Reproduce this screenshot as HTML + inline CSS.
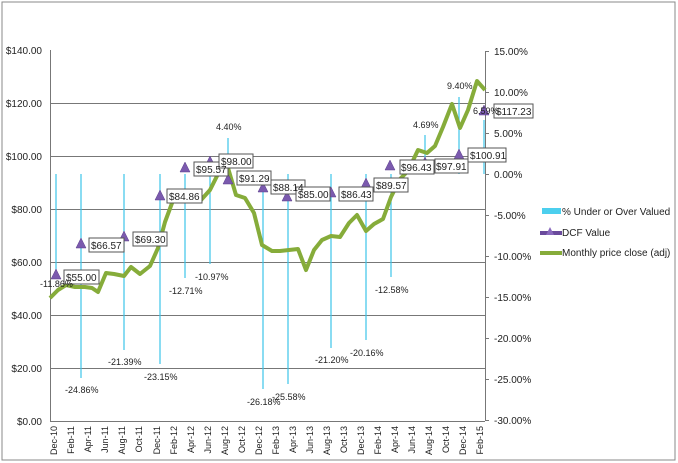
<!DOCTYPE html>
<html><head><meta charset="utf-8"><style>
body{margin:0;background:#fff}
svg{display:block;font-family:"Liberation Sans",sans-serif}
</style></head><body>
<svg width="678" height="463" viewBox="0 0 678 463" xmlns="http://www.w3.org/2000/svg">
<defs><linearGradient id="bg" x1="0" x2="1"><stop offset="0" stop-color="#2a5fb0"/><stop offset="1" stop-color="#e8f0fa"/></linearGradient></defs>
<rect x="2" y="2" width="673" height="458" fill="#fff" stroke="#888" stroke-width="1"/>
<line x1="50" y1="50.5" x2="485" y2="50.5" stroke="url(#bg)" stroke-width="1"/>
<g stroke="#777" stroke-width="1">
<line x1="50" y1="103.5" x2="485" y2="103.5"/><line x1="50" y1="156.5" x2="485" y2="156.5"/>
<line x1="50" y1="209.5" x2="485" y2="209.5"/><line x1="50" y1="262.5" x2="485" y2="262.5"/>
<line x1="50" y1="315.5" x2="485" y2="315.5"/><line x1="50" y1="368.5" x2="485" y2="368.5"/>
<line x1="50.5" y1="50" x2="50.5" y2="421"/><line x1="50" y1="421.5" x2="485" y2="421.5"/>
<line x1="485.5" y1="51" x2="485.5" y2="421"/>
</g>
<g font-size="10" fill="#222" text-anchor="end">
<text x="42" y="54">$140.00</text><text x="42" y="107">$120.00</text><text x="42" y="160">$100.00</text>
<text x="42" y="213">$80.00</text><text x="42" y="266">$60.00</text><text x="42" y="319">$40.00</text>
<text x="42" y="372">$20.00</text><text x="42" y="425">$0.00</text>
</g>
<g font-size="10" fill="#222">
<text x="494" y="55">15.00%</text><text x="494" y="96">10.00%</text><text x="494" y="137">5.00%</text>
<text x="494" y="178">0.00%</text><text x="494" y="219">-5.00%</text><text x="494" y="260">-10.00%</text>
<text x="494" y="301">-15.00%</text><text x="494" y="342">-20.00%</text><text x="494" y="383">-25.00%</text>
<text x="494" y="424">-30.00%</text>
</g>
<g stroke="#777"><line x1="485" y1="51.5" x2="489" y2="51.5"/><line x1="485" y1="92.5" x2="489" y2="92.5"/><line x1="485" y1="133.5" x2="489" y2="133.5"/><line x1="485" y1="174.5" x2="489" y2="174.5"/><line x1="485" y1="215.5" x2="489" y2="215.5"/><line x1="485" y1="256.5" x2="489" y2="256.5"/><line x1="485" y1="297.5" x2="489" y2="297.5"/><line x1="485" y1="338.5" x2="489" y2="338.5"/><line x1="485" y1="379.5" x2="489" y2="379.5"/><line x1="485" y1="420.5" x2="489" y2="420.5"/></g>
<g font-size="9" fill="#222" text-anchor="end">
<text transform="translate(57,426) rotate(-90)">Dec-10</text><text transform="translate(74,426) rotate(-90)">Feb-11</text>
<text transform="translate(91,426) rotate(-90)">Apr-11</text><text transform="translate(108,426) rotate(-90)">Jun-11</text>
<text transform="translate(125,426) rotate(-90)">Aug-11</text><text transform="translate(142,426) rotate(-90)">Oct-11</text>
<text transform="translate(160,426) rotate(-90)">Dec-11</text><text transform="translate(177,426) rotate(-90)">Feb-12</text>
<text transform="translate(194,426) rotate(-90)">Apr-12</text><text transform="translate(211,426) rotate(-90)">Jun-12</text>
<text transform="translate(228,426) rotate(-90)">Aug-12</text><text transform="translate(245,426) rotate(-90)">Oct-12</text>
<text transform="translate(262,426) rotate(-90)">Dec-12</text><text transform="translate(279,426) rotate(-90)">Feb-13</text>
<text transform="translate(296,426) rotate(-90)">Apr-13</text><text transform="translate(313,426) rotate(-90)">Jun-13</text>
<text transform="translate(330,426) rotate(-90)">Aug-13</text><text transform="translate(347,426) rotate(-90)">Oct-13</text>
<text transform="translate(364,426) rotate(-90)">Dec-13</text><text transform="translate(381,426) rotate(-90)">Feb-14</text>
<text transform="translate(398,426) rotate(-90)">Apr-14</text><text transform="translate(415,426) rotate(-90)">Jun-14</text>
<text transform="translate(432,426) rotate(-90)">Aug-14</text><text transform="translate(449,426) rotate(-90)">Oct-14</text>
<text transform="translate(466,426) rotate(-90)">Dec-14</text><text transform="translate(483,426) rotate(-90)">Feb-15</text>
</g>
<g stroke="#3cc4e8" stroke-width="1.2">
<line x1="56" y1="174" x2="56" y2="271"/><line x1="81" y1="174" x2="81" y2="378"/>
<line x1="124" y1="174" x2="124" y2="350"/><line x1="160" y1="174" x2="160" y2="364"/>
<line x1="185" y1="174" x2="185" y2="278"/><line x1="210" y1="174" x2="210" y2="264"/>
<line x1="228" y1="174" x2="228" y2="138"/><line x1="263" y1="174" x2="263" y2="389"/>
<line x1="288" y1="174" x2="288" y2="384"/><line x1="331" y1="174" x2="331" y2="348"/>
<line x1="366" y1="174" x2="366" y2="340"/><line x1="391" y1="174" x2="391" y2="277"/>
<line x1="425" y1="174" x2="425" y2="135"/><line x1="459" y1="174" x2="459" y2="97"/>
<line x1="484" y1="174" x2="484" y2="120"/>
</g>
<polyline fill="none" stroke="#86ac3a" stroke-width="4" stroke-linejoin="round" points="50,298 58,290 66,285 75,287 85,287 92,288 98,292 106,273 114,274 124,276 131,267 140,274 150,266 158,248 165,222 175,195 183,200 192,200 201,200 210,190 219,172 228,168 236,195 245,198 254,213 262,245 272,251 280,251 289,250 298,249 306,270 314,250 322,240 331,236 340,237 349,223 357,215 366,231 374,224 383,219 391,197 400,179 408,171 418,150 427,153 435,146 443,127 452,104 460,128 468,110 477,81 485,90"/>
<g fill="#7b5aae" stroke="#5b3f8a" stroke-width="0.5">
<polygon points="56,269 51,279 61,279"/><polygon points="81,238 76,248 86,248"/><polygon points="124,231 119,241 129,241"/>
<polygon points="160,190 155,200 165,200"/><polygon points="185,162 180,172 190,172"/><polygon points="210,156 205,166 215,166"/>
<polygon points="228,174 223,184 233,184"/><polygon points="263,182 258,192 268,192"/><polygon points="287,191 282,201 292,201"/>
<polygon points="331,187 326,197 336,197"/><polygon points="366,178 361,188 371,188"/><polygon points="390,160 385,170 395,170"/>
<polygon points="425,157 420,167 430,167"/><polygon points="459,149 454,159 464,159"/><polygon points="484,105 479,115 489,115"/>
</g>
<g fill="#fff" stroke="#555" stroke-width="1">
<rect x="64" y="270" width="35" height="14"/><rect x="89" y="238" width="35" height="14"/><rect x="133" y="232" width="34" height="14"/>
<rect x="167" y="189" width="35" height="14"/><rect x="194" y="162" width="34" height="14"/><rect x="219" y="154" width="34" height="14"/>
<rect x="237" y="171" width="34" height="14"/><rect x="271" y="180" width="34" height="14"/><rect x="296" y="187" width="34" height="14"/>
<rect x="339" y="187" width="34" height="14"/><rect x="374" y="178" width="34" height="14"/><rect x="400" y="160" width="34" height="14"/>
<rect x="435" y="159" width="33" height="14"/><rect x="468" y="148" width="38" height="14"/><rect x="494" y="104" width="39" height="14"/>
</g>
<g font-size="10" fill="#222">
<text x="66" y="281">$55.00</text><text x="91" y="249">$66.57</text><text x="135" y="243">$69.30</text>
<text x="169" y="200">$84.86</text><text x="196" y="173">$95.57</text><text x="221" y="165">$98.00</text>
<text x="239" y="182">$91.29</text><text x="273" y="191">$88.14</text><text x="298" y="198">$85.00</text>
<text x="341" y="198">$86.43</text><text x="376" y="189">$89.57</text><text x="401" y="171">$96.43</text>
<text x="436" y="170">$97.91</text><text x="470" y="159">$100.91</text><text x="496" y="115">$117.23</text>
</g>
<g font-size="9" fill="#222">
<text x="40" y="287">-11.86%</text><text x="65" y="393">-24.86%</text><text x="108" y="365">-21.39%</text>
<text x="144" y="380">-23.15%</text><text x="169" y="294">-12.71%</text><text x="195" y="280">-10.97%</text>
<text x="216" y="130">4.40%</text><text x="247" y="405">-26.18%</text><text x="272" y="400">-25.58%</text>
<text x="315" y="363">-21.20%</text><text x="350" y="356">-20.16%</text><text x="375" y="293">-12.58%</text>
<text x="413" y="128">4.69%</text><text x="447" y="89">9.40%</text><text x="473" y="114">6.59%</text>
</g>
<rect x="542" y="208" width="19" height="6" fill="#4ccfee"/>
<text x="562" y="215" font-size="10" fill="#222">% Under  or Over Valued</text>
<rect x="540" y="231" width="22" height="4" fill="#6a4a9c"/><polygon points="550,227 546,235 554,235" fill="#8a6abe"/>
<text x="562" y="236" font-size="10" fill="#222">DCF Value</text>
<rect x="540" y="251" width="22" height="4" fill="#86ac3a"/>
<text x="562" y="256" font-size="10" fill="#222">Monthly price close (adj)</text>
</svg>
</body></html>
